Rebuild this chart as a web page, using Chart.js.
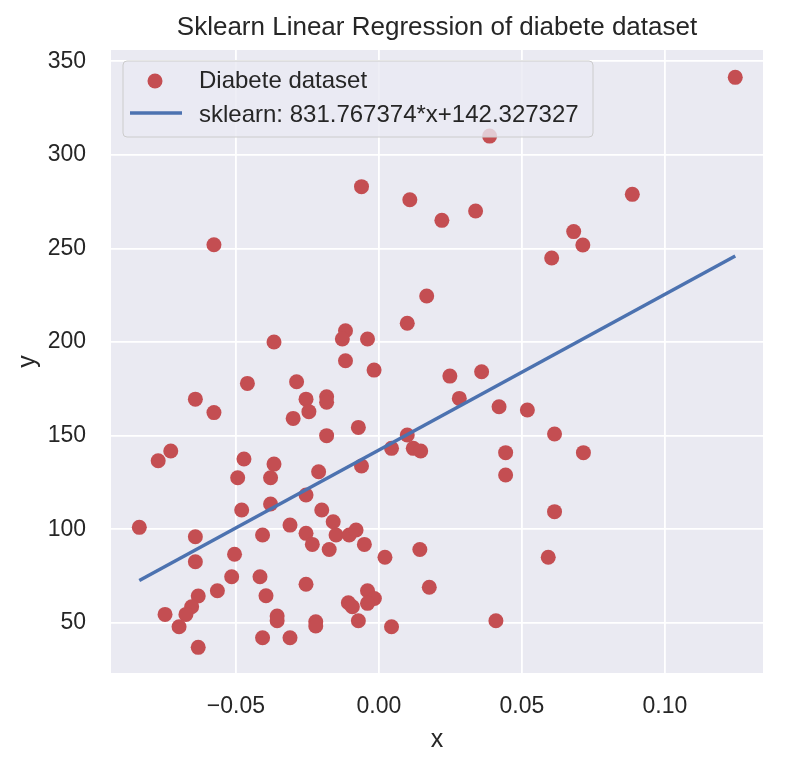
<!DOCTYPE html>
<html>
<head>
<meta charset="utf-8">
<script src="https://cdn.jsdelivr.net/npm/chart.js@4"></script>
<style>
  html, body { margin: 0; padding: 0; background: #ffffff; }
  #wrap { width: 800px; height: 763px; }
</style>
</head>
<body>
<div id="wrap"><canvas id="chart" width="800" height="763"></canvas></div>
<script>
// data
const xValues = [
  -0.0061, 0.0108, 0.0220, -0.0577, 0.0167, 0.0099, -0.0367, -0.0117, -0.0128, -0.0040,
  -0.0117, -0.0017, 0.1246, 0.0387, 0.0886, 0.0338, 0.0681, 0.0713, 0.0604, -0.0460,
  -0.0288, -0.0642, -0.0255, -0.0183, -0.0183, -0.0577, -0.0245, -0.0300, -0.0072, -0.0183,
  0.0099, 0.0044, 0.0120, 0.0146, -0.0728, -0.0772, -0.0472, -0.0367, -0.0061, -0.0494,
  -0.0379, -0.0211, -0.0255, -0.0379, -0.0480, -0.0200, -0.0838, -0.0311, -0.0160, -0.0642,
  -0.0407, -0.0255, -0.0150, -0.0104, -0.0080, -0.0233, -0.0174, -0.0051, -0.0505, 0.0021,
  0.0143, -0.0642, -0.0515, -0.0416, -0.0565, -0.0255, 0.0176, -0.0632, -0.0395, -0.0655,
  -0.0748, -0.0675, -0.0699, -0.0356, -0.0356, -0.0107, -0.0093, -0.0040, -0.0016, -0.0040,
  -0.0072, -0.0221, -0.0221, 0.0044, -0.0407, -0.0311, -0.0632, 0.0248, 0.0359, 0.0281,
  0.0420, 0.0519, 0.0614, 0.0443, 0.0715, 0.0443, 0.0614, 0.0592, 0.0409
];
const yValues = [
  283, 276, 265, 252, 224.6, 210, 200, 206, 201.6, 201.6,
  190, 185, 341.4, 310, 278.9, 270, 259, 251.8, 244.9, 177.9,
  178.8, 169.5, 169.5, 170.8, 167.8, 162.3, 162.8, 159.2, 154.4, 150,
  150.3, 143.2, 143.2, 141.8, 141.8, 136.6, 137.5, 134.8, 133.8, 127.5,
  127.5, 130.7, 118.3, 113.5, 110.3, 110.3, 101, 102.2, 104, 96,
  96.9, 97.8, 96.9, 96.9, 99.6, 91.9, 89.2, 91.9, 86.6, 85,
  89.2, 82.6, 74.6, 74.6, 67.1, 70.6, 69, 64.3, 64.5, 58.6,
  54.5, 54.5, 47.9, 53.6, 51.1, 60.7, 58.6, 67.1, 63, 60.4,
  51.1, 50.6, 48.3, 47.9, 42, 42, 36.9, 181.8, 184.1, 169.9,
  165.4, 163.7, 150.9, 140.9, 140.9, 129, 109.4, 85, 51.1
];
const lineX = [-0.0838, 0.1246];
const lineY = [72.6, 246.0];

const xTicks = [-0.05, 0, 0.05, 0.10];
const xTickLabels = ['\u22120.05', '0.00', '0.05', '0.10'];
const yTicks = [50, 100, 150, 200, 250, 300, 350];
const yTickLabels = ['50', '100', '150', '200', '250', '300', '350'];

const titleText = 'Sklearn Linear Regression of diabete dataset';
const legendLabels = ['Diabete dataset', 'sklearn: 831.767374*x+142.327327'];

const FONT = '"Liberation Sans", Arial, Helvetica, sans-serif';
const TEXT = '#262626';
const RED = '#C44E52';
const BLUE = '#4C72B0';

const scatterPts = xValues.map((x, i) => ({ x: x, y: yValues[i] }));
const linePts = lineX.map((x, i) => ({ x: x, y: lineY[i] }));

// axes background, title, legend box
const decor = {
  id: 'decor',
  beforeDraw(chart) {
    const { ctx, chartArea: a } = chart;
    ctx.save();
    ctx.fillStyle = '#EAEAF2';
    ctx.fillRect(a.left, a.top, a.right - a.left, a.bottom - a.top);
    ctx.restore();
  },
  afterDatasetsDraw(chart) {
    const { ctx, chartArea: a } = chart;
    ctx.save();
    // title
    ctx.fillStyle = TEXT;
    ctx.font = '26px ' + FONT;
    ctx.textAlign = 'center';
    ctx.textBaseline = 'alphabetic';
    ctx.fillText(titleText, (a.left + a.right) / 2, 35);

    // legend
    const bx = 123, by = 61, bw = 470, bh = 76, r = 4;
    ctx.beginPath();
    ctx.moveTo(bx + r, by);
    ctx.arcTo(bx + bw, by, bx + bw, by + bh, r);
    ctx.arcTo(bx + bw, by + bh, bx, by + bh, r);
    ctx.arcTo(bx, by + bh, bx, by, r);
    ctx.arcTo(bx, by, bx + bw, by, r);
    ctx.closePath();
    ctx.fillStyle = 'rgba(234,234,242,0.8)';
    ctx.fill();
    ctx.strokeStyle = '#cccccc';
    ctx.lineWidth = 1;
    ctx.stroke();

    ctx.fillStyle = RED;
    ctx.beginPath();
    ctx.arc(155, 81, 7.5, 0, Math.PI * 2);
    ctx.fill();

    ctx.strokeStyle = BLUE;
    ctx.lineWidth = 3.5;
    ctx.beginPath();
    ctx.moveTo(130, 113);
    ctx.lineTo(182, 113);
    ctx.stroke();

    ctx.fillStyle = TEXT;
    ctx.font = '24px ' + FONT;
    ctx.textAlign = 'left';
    ctx.fillText(legendLabels[0], 199, 88);
    ctx.fillText(legendLabels[1], 199, 122);
    ctx.restore();
  }
};

new Chart(document.getElementById('chart'), {
  type: 'scatter',
  data: {
    datasets: [
      {
        label: legendLabels[1],
        data: linePts,
        showLine: true,
        borderColor: BLUE,
        borderWidth: 3.5,
        pointRadius: 0,
        order: 0
      },
      {
        label: legendLabels[0],
        data: scatterPts,
        backgroundColor: RED,
        borderWidth: 0,
        pointRadius: 7.5,
        order: 1
      }
    ]
  },
  options: {
    responsive: false,
    animation: false,
    layout: { padding: { top: 50, right: 37, left: 0, bottom: 0 } },
    plugins: {
      legend: { display: false },
      title: { display: false },
      tooltip: { enabled: false }
    },
    scales: {
      x: {
        type: 'linear',
        min: -0.0937,
        max: 0.1343,
        afterBuildTicks: s => { s.ticks = xTicks.map(v => ({ value: v })); },
        afterFit: s => { s.height = 90; },
        ticks: {
          color: TEXT,
          font: { family: FONT, size: 23 },
          padding: 20,
          callback: v => xTickLabels[xTicks.indexOf(v)]
        },
        grid: { color: '#ffffff', lineWidth: 1.8, drawTicks: false },
        border: { display: false },
        title: {
          display: true,
          text: 'x',
          color: TEXT,
          font: { family: FONT, size: 25 },
          padding: { top: 0, bottom: 8 }
        }
      },
      y: {
        type: 'linear',
        min: 23.2,
        max: 356,
        afterBuildTicks: s => { s.ticks = yTicks.map(v => ({ value: v })); },
        afterFit: s => { s.width = 111; },
        ticks: {
          color: TEXT,
          font: { family: FONT, size: 23 },
          padding: 25,
          callback: v => yTickLabels[yTicks.indexOf(v)]
        },
        grid: { color: '#ffffff', lineWidth: 1.8, drawTicks: false },
        border: { display: false },
        title: {
          display: true,
          text: 'y',
          color: TEXT,
          font: { family: FONT, size: 25 },
          padding: { top: 13, bottom: 0 }
        }
      }
    }
  },
  plugins: [decor]
});
</script>
</body>
</html>
